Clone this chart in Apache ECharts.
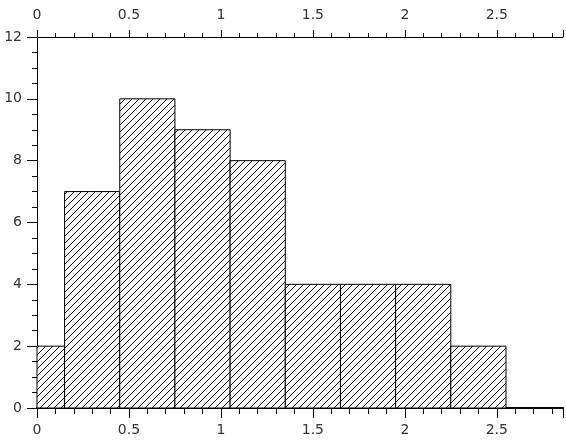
<!DOCTYPE html>
<html><head><meta charset="utf-8">
<script src="https://cdn.jsdelivr.net/npm/echarts@6/dist/echarts.min.js"></script>
<style>html,body{margin:0;padding:0;background:#fff}#c{width:566px;height:445px}</style>
</head><body><div id="c"></div>
<script>
var binStarts = [-0.15, 0.15, 0.45, 0.75, 1.05, 1.35, 1.65, 1.95, 2.25];
var binEnds   = [0.15, 0.45, 0.75, 1.05, 1.35, 1.65, 1.95, 2.25, 2.55];
var counts    = [2, 7, 10, 9, 8, 4, 4, 4, 2];
var xMin = 0, xMax = 2.86, yMin = 0, yMax = 12;

var T = 7;
var tile = document.createElement('canvas');
tile.width = T; tile.height = T;
var tctx = tile.getContext('2d');
tctx.fillStyle = '#fff'; tctx.fillRect(0,0,T,T);
tctx.fillStyle = '#000';
for (var i = 0; i < T; i++) tctx.fillRect(i, T - 1 - i, 1, 1);

var data = binStarts.map(function (s, i) { return [s, binEnds[i], counts[i]]; });
var txt = {color: '#2e3440', fontFamily: 'DejaVu Sans', fontSize: 14};
var chart = echarts.init(document.getElementById('c'));
chart.setOption({
  animation: false,
  grid: {left: 37, top: 37, right: 3, bottom: 37},
  xAxis: [
    {type: 'value', position: 'bottom', min: xMin, max: xMax, interval: 0.5,
     axisLine: {lineStyle: {color: '#000', width: 2}},
     axisTick: {length: 10, lineStyle: {color: '#000'}},
     minorTick: {show: true, splitNumber: 5, length: 6, lineStyle: {color: '#000'}},
     splitLine: {show: false},
     axisLabel: Object.assign({margin: 15, showMaxLabel: false}, txt)},
    {type: 'value', position: 'top', min: xMin, max: xMax, interval: 0.5,
     axisLine: {lineStyle: {color: '#000', width: 1}},
     axisTick: {length: 7, lineStyle: {color: '#000'}},
     minorTick: {show: true, splitNumber: 5, length: 4, lineStyle: {color: '#000'}},
     splitLine: {show: false},
     axisLabel: Object.assign({margin: 15, showMaxLabel: false}, txt)}
  ],
  yAxis: {type: 'value', min: yMin, max: yMax, interval: 2,
    axisLine: {show: true, lineStyle: {color: '#000', width: 1}},
    axisTick: {show: true, length: 10, lineStyle: {color: '#000'}},
    minorTick: {show: true, splitNumber: 4, length: 5, lineStyle: {color: '#000'}},
    splitLine: {show: false},
    axisLabel: Object.assign({margin: 15}, txt)},
  series: [{
    type: 'custom', xAxisIndex: 0, yAxisIndex: 0,
    encode: {x: [0, 1], y: 2},
    data: data,
    renderItem: function (params, api) {
      var p0 = api.coord([api.value(0), api.value(2)]);
      var p1 = api.coord([api.value(1), 0]);
      var rect = echarts.graphic.clipRectByRect(
        {x: p0[0], y: p0[1], width: p1[0] - p0[0], height: p1[1] - p0[1]},
        {x: params.coordSys.x, y: params.coordSys.y - 1, width: params.coordSys.width, height: params.coordSys.height + 1});
      if (!rect) return;
      return {type: 'rect', shape: rect,
        style: {fill: {image: tile, repeat: 'repeat'}, stroke: '#000', lineWidth: 1}};
    }
  }]
});
</script></body></html>
